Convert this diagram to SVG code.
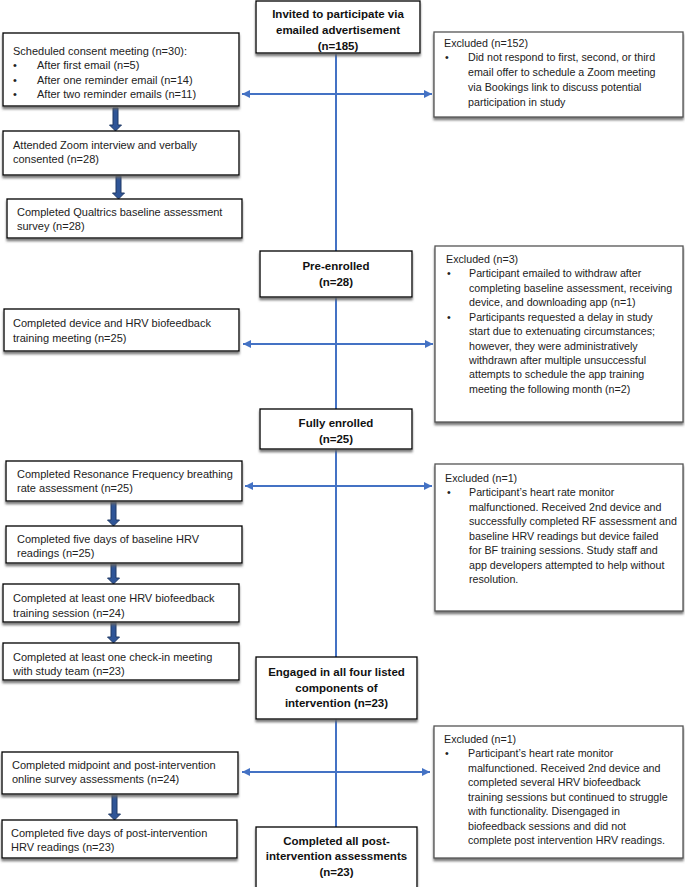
<svg xmlns="http://www.w3.org/2000/svg" width="685" height="887" viewBox="0 0 685 887">
<defs>
<style>
.bx{fill:#fff;stroke:#000;stroke-width:1.3;filter:url(#sh)}
.ex{fill:#fff;stroke:#555;stroke-width:1.3;filter:url(#sh)}
.t{font-family:"Liberation Sans",Arial,sans-serif;font-size:11px;fill:#222}
.r{font-size:10.7px}
.b{font-family:"Liberation Sans",Arial,sans-serif;font-size:11.5px;font-weight:bold;fill:#111;text-anchor:middle}
.ln{stroke:#4472C4;stroke-width:2;fill:none}
.ta{fill:#2F5597;stroke:#1F3864;stroke-width:1}
</style>
<filter id="sh" x="-5%" y="-10%" width="110%" height="130%">
<feDropShadow dx="0" dy="2.5" stdDeviation="0.8" flood-color="#666" flood-opacity="0.9"/>
</filter>
<marker id="ah" viewBox="0 0 10 10" refX="10" refY="5" markerWidth="4" markerHeight="4" orient="auto-start-reverse">
<path d="M0,0 L10,5 L0,10 z" fill="#4472C4"/>
</marker>
</defs>

<g id="connectors">
<line class="ln" x1="336" y1="54" x2="336" y2="827"/>
<line class="ln" x1="242" y1="94" x2="432" y2="94" marker-start="url(#ah)" marker-end="url(#ah)"/>
<line class="ln" x1="243" y1="344" x2="433" y2="344" marker-start="url(#ah)" marker-end="url(#ah)"/>
<line class="ln" x1="245" y1="486" x2="432" y2="486" marker-start="url(#ah)" marker-end="url(#ah)"/>
<line class="ln" x1="242" y1="772" x2="430" y2="772" marker-start="url(#ah)" marker-end="url(#ah)"/>
<path class="ta" d="M113,108 h5 v17 h3.5 l-6,6 l-6,-6 h3.5 z"/>
<path class="ta" d="M116,176 h5 v17 h3.5 l-6,6 l-6,-6 h3.5 z"/>
<path class="ta" d="M111,501 h5 v19 h3.5 l-6,6 l-6,-6 h3.5 z"/>
<path class="ta" d="M111,563 h5 v15 h3.5 l-6,6 l-6,-6 h3.5 z"/>
<path class="ta" d="M111,622 h5 v15 h3.5 l-6,6 l-6,-6 h3.5 z"/>
<path class="ta" d="M112,794 h5 v20 h3.5 l-6,6 l-6,-6 h3.5 z"/>
</g>

<g id="invited">
<rect class="bx" x="256" y="1" width="164" height="52"/>
<text class="b" x="338" y="18">Invited to participate via</text>
<text class="b" x="338" y="34">emailed advertisement</text>
<text class="b" x="338" y="50">(n=185)</text>
</g>

<g id="excluded152">
<rect class="ex" x="434" y="32" width="249" height="85"/>
<text class="t r" x="444" y="47">Excluded (n=152)</text>
<text class="t r" x="445" y="61">•</text>
<text class="t r" x="468" y="61">Did not respond to first, second, or third</text>
<text class="t r" x="468" y="76">email offer to schedule a Zoom meeting</text>
<text class="t r" x="468" y="91">via Bookings link to discuss potential</text>
<text class="t r" x="468" y="106">participation in study</text>
</g>

<g id="scheduled">
<rect class="bx" x="3" y="33" width="236" height="73"/>
<text class="t" x="13" y="55">Scheduled consent meeting (n=30):</text>
<text class="t" x="13" y="69">•</text>
<text class="t" x="37" y="69">After first email (n=5)</text>
<text class="t" x="13" y="84">•</text>
<text class="t" x="37" y="84">After one reminder email (n=14)</text>
<text class="t" x="13" y="98">•</text>
<text class="t" x="37" y="98">After two reminder emails (n=11)</text>
</g>

<g id="attended">
<rect class="bx" x="3" y="131" width="236" height="44"/>
<text class="t" x="13" y="149">Attended Zoom interview and verbally</text>
<text class="t" x="13" y="163">consented (n=28)</text>
</g>

<g id="qualtrics">
<rect class="bx" x="7" y="199" width="235" height="39"/>
<text class="t" x="17" y="216">Completed Qualtrics baseline assessment</text>
<text class="t" x="17" y="230">survey (n=28)</text>
</g>

<g id="preenrolled">
<rect class="bx" x="260" y="251" width="152" height="46"/>
<text class="b" x="336" y="270">Pre-enrolled</text>
<text class="b" x="336" y="286">(n=28)</text>
</g>

<g id="device">
<rect class="bx" x="4" y="309" width="235" height="42"/>
<text class="t" x="13" y="327">Completed device and HRV biofeedback</text>
<text class="t" x="13" y="342">training meeting (n=25)</text>
</g>

<g id="excluded3">
<rect class="ex" x="435" y="246" width="248" height="176"/>
<text class="t r" x="446" y="263">Excluded (n=3)</text>
<text class="t r" x="447" y="277">•</text>
<text class="t r" x="469" y="277">Participant emailed to withdraw after</text>
<text class="t r" x="469" y="292">completing baseline assessment, receiving</text>
<text class="t r" x="469" y="306">device, and downloading app (n=1)</text>
<text class="t r" x="447" y="321">•</text>
<text class="t r" x="469" y="321">Participants requested a delay in study</text>
<text class="t r" x="469" y="335">start due to extenuating circumstances;</text>
<text class="t r" x="469" y="350">however, they were administratively</text>
<text class="t r" x="469" y="364">withdrawn after multiple unsuccessful</text>
<text class="t r" x="469" y="378">attempts to schedule the app training</text>
<text class="t r" x="469" y="393">meeting the following month (n=2)</text>
</g>

<g id="fullyenrolled">
<rect class="bx" x="260" y="409" width="152" height="40"/>
<text class="b" x="336" y="427">Fully enrolled</text>
<text class="b" x="336" y="443">(n=25)</text>
</g>

<g id="resonance">
<rect class="bx" x="6" y="461" width="236" height="40"/>
<text class="t" x="17" y="478">Completed Resonance Frequency breathing</text>
<text class="t" x="17" y="492">rate assessment (n=25)</text>
</g>

<g id="excluded1a">
<rect class="ex" x="435" y="464" width="248" height="147"/>
<text class="t r" x="445" y="482">Excluded (n=1)</text>
<text class="t r" x="447" y="496">•</text>
<text class="t r" x="469" y="496">Participant’s heart rate monitor</text>
<text class="t r" x="469" y="511">malfunctioned. Received 2nd device and</text>
<text class="t r" x="469" y="525">successfully completed RF assessment and</text>
<text class="t r" x="469" y="540">baseline HRV readings but device failed</text>
<text class="t r" x="469" y="554">for BF training sessions. Study staff and</text>
<text class="t r" x="469" y="569">app developers attempted to help without</text>
<text class="t r" x="469" y="583">resolution.</text>
</g>

<g id="baseline">
<rect class="bx" x="6" y="526" width="236" height="37"/>
<text class="t" x="17" y="543">Completed five days of baseline HRV</text>
<text class="t" x="17" y="557">readings (n=25)</text>
</g>

<g id="oneSession">
<rect class="bx" x="3" y="584" width="236" height="38"/>
<text class="t" x="13" y="602">Completed at least one HRV biofeedback</text>
<text class="t" x="13" y="617">training session (n=24)</text>
</g>

<g id="checkin">
<rect class="bx" x="3" y="643" width="236" height="37"/>
<text class="t" x="13" y="661">Completed at least one check-in meeting</text>
<text class="t" x="13" y="675">with study team (n=23)</text>
</g>

<g id="engaged">
<rect class="bx" x="256" y="657" width="161" height="62"/>
<text class="b" x="336.5" y="676">Engaged in all four listed</text>
<text class="b" x="336.5" y="692">components of</text>
<text class="b" x="336.5" y="707">intervention (n=23)</text>
</g>

<g id="midpoint">
<rect class="bx" x="2" y="752" width="236" height="42"/>
<text class="t" x="12" y="769">Completed midpoint and post-intervention</text>
<text class="t" x="12" y="783">online survey assessments (n=24)</text>
</g>

<g id="excluded1b">
<rect class="ex" x="434" y="726" width="249" height="132"/>
<text class="t r" x="444" y="743">Excluded (n=1)</text>
<text class="t r" x="445" y="757">•</text>
<text class="t r" x="468" y="757">Participant’s heart rate monitor</text>
<text class="t r" x="468" y="772">malfunctioned. Received 2nd device and</text>
<text class="t r" x="468" y="786">completed several HRV biofeedback</text>
<text class="t r" x="468" y="801">training sessions but continued to struggle</text>
<text class="t r" x="468" y="815">with functionality. Disengaged in</text>
<text class="t r" x="468" y="830">biofeedback sessions and did not</text>
<text class="t r" x="468" y="844">complete post intervention HRV readings.</text>
</g>

<g id="postHRV">
<rect class="bx" x="2" y="820" width="235" height="38"/>
<text class="t" x="11" y="837">Completed five days of post-intervention</text>
<text class="t" x="11" y="851">HRV readings (n=23)</text>
</g>

<g id="completedAll">
<rect class="bx" x="256" y="827" width="161" height="62"/>
<text class="b" x="336.5" y="845">Completed all post-</text>
<text class="b" x="336.5" y="860">intervention assessments</text>
<text class="b" x="336.5" y="876">(n=23)</text>
</g>
</svg>
